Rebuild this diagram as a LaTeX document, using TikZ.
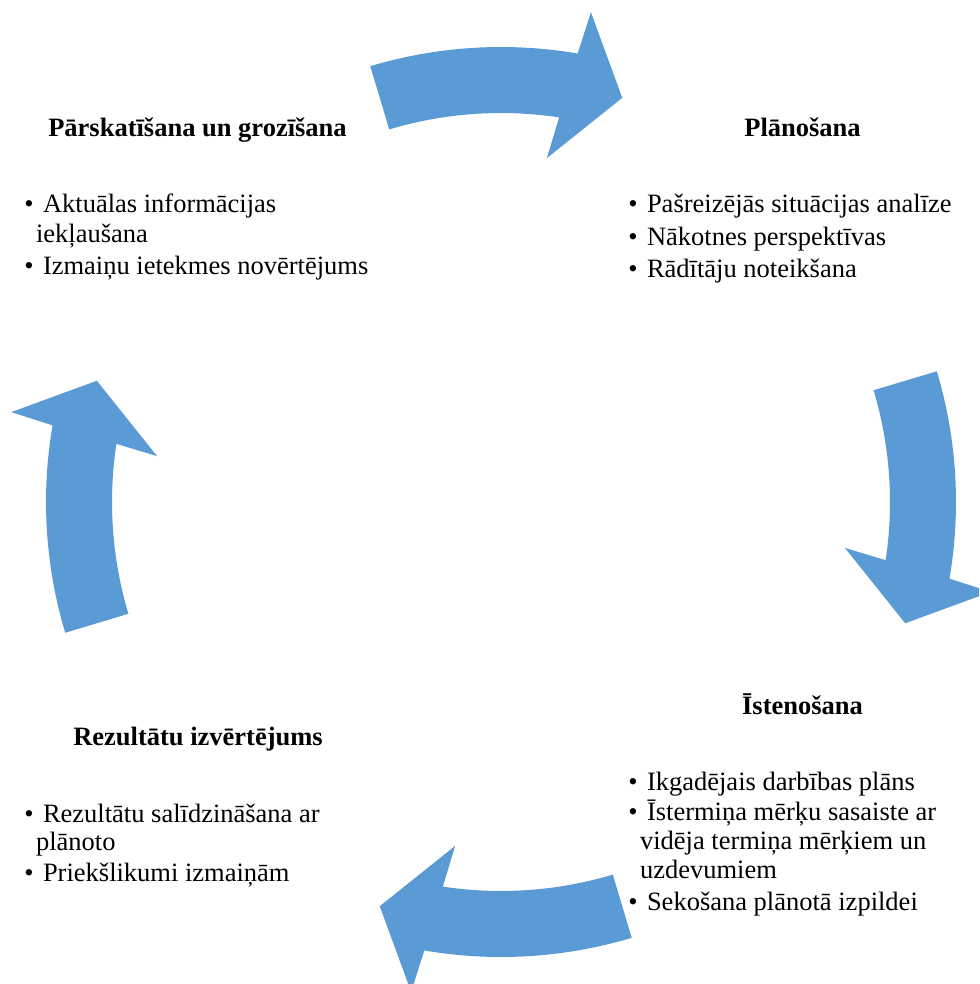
\documentclass[tikz,border=0pt]{standalone}
\usepackage{fontspec}
\setmainfont{Liberation Serif}
\definecolor{arrowblue}{RGB}{91,155,213}
\begin{document}
\begin{tikzpicture}[x=1pt,y=-1pt,
  txt/.style={inner sep=0pt, outer sep=0pt, font=\fontsize{26.5}{29}\selectfont, anchor=base west},
  head/.style={txt, anchor=base, font=\fontsize{26.5}{29}\selectfont\bfseries},
  bul/.style={txt, anchor=base},
  cyclearrow/.style={fill=arrowblue, draw=none}]
\useasboundingbox (0,0) rectangle (979,984);
\clip (0,0) rectangle (979,984);
\begin{scope}[shift={(501pt,-502pt)}, x=1pt, y=1pt]
\foreach \t in {90,0,-90,-180} {
  \fill[cyclearrow] (\t+16.7:455) arc[start angle=\t+16.7, end angle=\t-9.7, radius=455]
    -- (\t-10.4:498) -- (\t-16.7:422) -- (\t-7.6:347) -- (\t-8.6:389)
    arc[start angle=\t-8.6, end angle=\t+16.7, radius=389] -- cycle;
}
\end{scope}
% top left
\node[head] (tlh) at (197.5,137) {Pārskatīšana un grozīšana};
\node[bul] (tlb1) at (29,213) {•};
\node[txt] (tl1) at (43,213) {Aktuālas informācijas};
\node[txt] (tl1b) at (36,242) {iekļaušana};
\node[bul] (tlb2) at (29,274) {•};
\node[txt] (tl2) at (43,274) {Izmaiņu ietekmes novērtējums};
% top right
\node[head] (trh) at (802.5,137) {Plānošana};
\node[bul] (trb1) at (633,213) {•};
\node[txt] (tr1) at (647,213) {Pašreizējās situācijas analīze};
\node[bul] (trb2) at (633,245) {•};
\node[txt] (tr2) at (647,245) {Nākotnes perspektīvas};
\node[bul] (trb3) at (633,277) {•};
\node[txt] (tr3) at (647,277) {Rādītāju noteikšana};
% bottom right
\node[head] (brh) at (802.5,714) {Īstenošana};
\node[bul] (brb1) at (633,790) {•};
\node[txt] (br1) at (647,790) {Ikgadējais darbības plāns};
\node[bul] (brb2) at (633,820) {•};
\node[txt] (br2) at (647,820) {Īstermiņa mērķu sasaiste ar};
\node[txt] (br2b) at (640,849) {vidēja termiņa mērķiem un};
\node[txt] (br2c) at (640,878) {uzdevumiem};
\node[bul] (brb3) at (633,910) {•};
\node[txt] (br3) at (647,910) {Sekošana plānotā izpildei};
% bottom left
\node[head] (blh) at (198,745) {Rezultātu izvērtējums};
\node[bul] (blb1) at (29,822) {•};
\node[txt] (bl1) at (43,822) {Rezultātu salīdzināšana ar};
\node[txt] (bl1b) at (36,850) {plānoto};
\node[bul] (blb2) at (29,881) {•};
\node[txt] (bl2) at (43,881) {Priekšlikumi izmaiņām};
\end{tikzpicture}
\end{document}
